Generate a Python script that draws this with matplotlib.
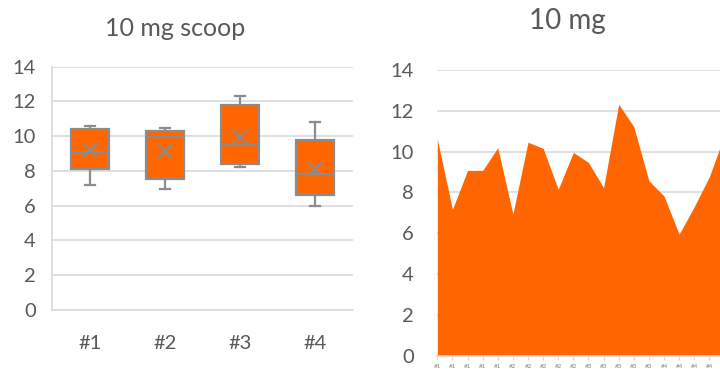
import numpy as np
import matplotlib
matplotlib.use("Agg")
import matplotlib.pyplot as plt

# ---- data (5 readings per scoop) ----
GROUPS = ["#1", "#2", "#3", "#4"]
READINGS = [10.60, 7.17, 9.08, 9.08, 10.19,
            6.94, 10.46, 10.16, 8.15, 9.96,
            9.47, 8.23, 12.32, 11.22, 8.57,
            7.82, 5.95, 7.30, 8.77, 10.80]
POINT_LABELS = ["#1"] * 5 + ["#2"] * 5 + ["#3"] * 5 + ["#4"] * 5
Y_TICKS = [0, 2, 4, 6, 8, 10, 12, 14]

ORANGE = "#FF6600"; EDGE = "#8C8C8C"; GRID = "#D9D9D9"; TXT = "#595959"

plt.rcParams["font.family"] = ["Lato", "DejaVu Sans"]
plt.rcParams.update({"text.color": TXT, "xtick.color": TXT, "ytick.color": TXT})

fig = plt.figure(figsize=(7.2, 3.71), dpi=100)

# ---- left: box and whisker (Excel exclusive quartiles) ----
ax1 = fig.add_axes([0.0729, 0.165, 0.4167, 0.6553])
vals = np.array(READINGS).reshape(4, 5)
stats = []
for g, v in zip(GROUPS, vals):
    q1, med, q3 = np.percentile(v, [25, 50, 75], method="weibull")
    stats.append(dict(label=g, mean=v.mean(), med=med, q1=q1, q3=q3,
                      whislo=v.min(), whishi=v.max(), fliers=[]))
ax1.bxp(stats, positions=[1, 2, 3, 4], widths=0.51, capwidths=0.13,
        patch_artist=True, showmeans=True,
        boxprops=dict(facecolor=ORANGE, edgecolor=EDGE, linewidth=1.6),
        medianprops=dict(color=EDGE, linewidth=1.6),
        whiskerprops=dict(color=EDGE, linewidth=1.6),
        capprops=dict(color=EDGE, linewidth=1.6),
        meanprops=dict(marker="x", markeredgecolor=EDGE, markersize=9.5, markeredgewidth=1.7))
ax1.set_xlim(0.5, 4.5); ax1.set_ylim(0, 14)
ax1.set_yticks(Y_TICKS)
ax1.grid(axis="y", color=GRID, linewidth=1.2); ax1.set_axisbelow(True)
for s in ["top", "right"]:
    ax1.spines[s].set_visible(False)
for s in ["left", "bottom"]:
    ax1.spines[s].set_color(GRID); ax1.spines[s].set_linewidth(1.2)
ax1.tick_params(axis="y", length=0, pad=12, labelsize=14.5)
ax1.tick_params(axis="x", length=0, pad=18, labelsize=14.5)
fig.text(175 / 720, 1 - 28 / 371, "10 mg scoop", ha="center", va="center", fontsize=18, color=TXT)

# ---- right: area chart of every reading (chart runs off the right edge) ----
ax2 = fig.add_axes([0.6074, 0.0415, 0.3988, 0.7698])
x = np.arange(len(READINGS))
ax2.fill_between(x, READINGS, color=ORANGE, linewidth=0, zorder=2)
ax2.set_xlim(0, len(READINGS) - 1); ax2.set_ylim(0, 14)
ax2.set_yticks(Y_TICKS)
ax2.set_xticks(x); ax2.set_xticklabels(POINT_LABELS)
ax2.get_xticklabels()[-1].set_visible(False)  # last label falls outside the crop
ax2.grid(axis="y", color=GRID, linewidth=1.2); ax2.set_axisbelow(True)
for s in ["top", "right", "left"]:
    ax2.spines[s].set_visible(False)
ax2.spines["bottom"].set_color(GRID); ax2.spines["bottom"].set_linewidth(1.2)
ax2.tick_params(axis="y", length=0, pad=17, labelsize=14.5)
ax2.tick_params(axis="x", length=3, color=GRID, pad=3, labelsize=4.5, labelcolor="#808080")
fig.text(567 / 720, 1 - 21 / 371, "10 mg", ha="center", va="center", fontsize=20, color=TXT)

fig.savefig("out.png", dpi=100, facecolor="white")
